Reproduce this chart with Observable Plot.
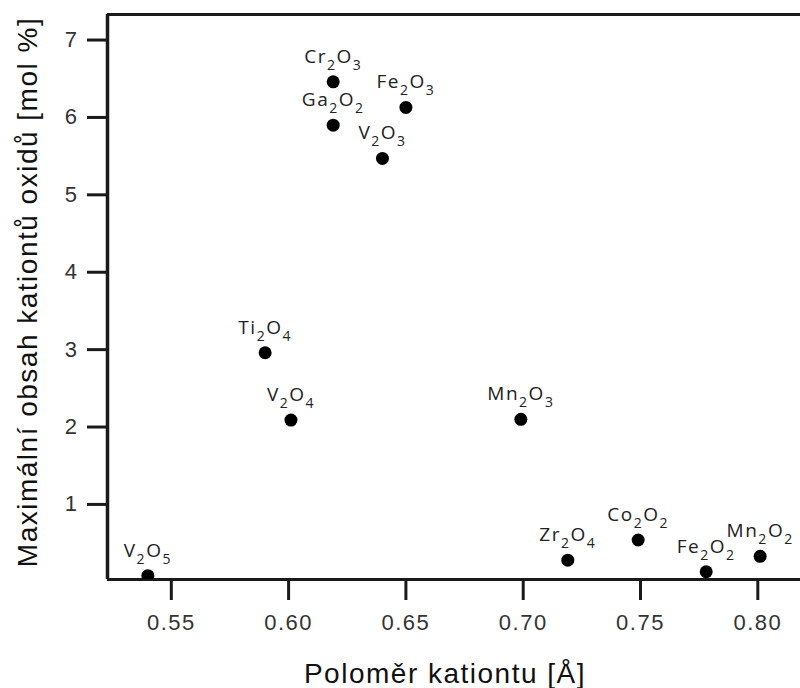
<!DOCTYPE html>
<html>
<head>
<meta charset="utf-8">
<script src="https://cdn.jsdelivr.net/npm/d3@7"></script>
<script src="https://cdn.jsdelivr.net/npm/@observablehq/plot@0.6"></script>
<style>
  html, body { margin: 0; padding: 0; background: #fff; }
  svg { display: block; }
</style>
</head>
<body>
<div id="chart"></div>
<script>
// ---- data ----
const compounds = ["V2O5", "Ti2O4", "V2O4", "Cr2O3", "Ga2O2", "V2O3", "Fe2O3", "Mn2O3", "Zr2O4", "Co2O2", "Fe2O2", "Mn2O2"];
const cationRadius = [0.540, 0.590, 0.601, 0.619, 0.619, 0.640, 0.650, 0.699, 0.719, 0.749, 0.778, 0.801];
const maxContent = [0.08, 2.96, 2.09, 6.46, 5.90, 5.47, 6.13, 2.10, 0.28, 0.54, 0.13, 0.33];
const xTicks = [0.55, 0.60, 0.65, 0.70, 0.75, 0.80];
const yTicks = [1, 2, 3, 4, 5, 6, 7];
const xDomain = [0.5228, 0.8182];
const yDomain = [0.03, 7.33];
const xTitle = "Poloměr kationtu [Å]";
const yTitle = "Maximální obsah kationtů oxidů [mol %]";

const points = compounds.map((name, i) => ({name, x: cationRadius[i], y: maxContent[i]}));

const ink = "#1a1a1a";

const chart = Plot.plot({
  width: 800,
  height: 688,
  marginLeft: 107,
  marginRight: 0,
  marginTop: 14,
  marginBottom: 109,
  style: {background: "#fff", fontFamily: "'Liberation Sans', Arial, sans-serif", letterSpacing: "1.5px", color: "#333"},
  x: {domain: xDomain},
  y: {domain: yDomain},
  marks: [
    Plot.axisX({ticks: xTicks, tickFormat: d3.format(".2f"), tickSize: 21, tickPadding: 14, fontSize: 22, strokeWidth: 3, stroke: ink, fill: "#333", label: null}),
    Plot.axisY({ticks: yTicks, tickFormat: d3.format("d"), tickSize: 20, tickPadding: 9, fontSize: 22, strokeWidth: 3, stroke: ink, fill: "#333", label: null}),
    Plot.ruleY([yDomain[0]], {stroke: ink, strokeWidth: 3}),
    Plot.ruleY([yDomain[1]], {stroke: ink, strokeWidth: 3}),
    Plot.ruleX([xDomain[0]], {stroke: ink, strokeWidth: 3.5}),
    Plot.dot(points, {x: "x", y: "y", r: 6.5, fill: "#000", stroke: null, clip: "frame"}),
    Plot.text(points, {x: "x", y: "y", text: "name", dy: -19, fontSize: 19, fontFamily: "'Open Sans', sans-serif", fill: "#222", textAnchor: "middle", lineAnchor: "bottom", className: "chem"}),
    Plot.text([xTitle], {frameAnchor: "bottom", textAnchor: "middle", lineAnchor: "bottom", dy: 103, dx: -9, fontSize: 28, fill: "#111"}),
    Plot.text([yTitle], {frameAnchor: "left", textAnchor: "middle", lineAnchor: "bottom", rotate: -90, dx: -71, dy: -5, fontSize: 28, fill: "#111"})
  ]
});

document.getElementById("chart").appendChild(chart);

// chemical formulas: render digits as subscripts
d3.select(chart).selectAll("g.chem text").each(function () {
  const t = d3.select(this);
  const s = t.text();
  t.text(null);
  const parts = s.split(/(\d+)/).filter(p => p.length);
  let lowered = false;
  for (const p of parts) {
    const isSub = /^\d+$/.test(p);
    const sp = t.append("tspan").text(p);
    if (isSub) {
      sp.attr("font-size", 14).attr("dy", lowered ? null : 7);
      lowered = true;
    } else {
      if (lowered) sp.attr("dy", -7);
      lowered = false;
    }
  }
});
</script>
</body>
</html>
